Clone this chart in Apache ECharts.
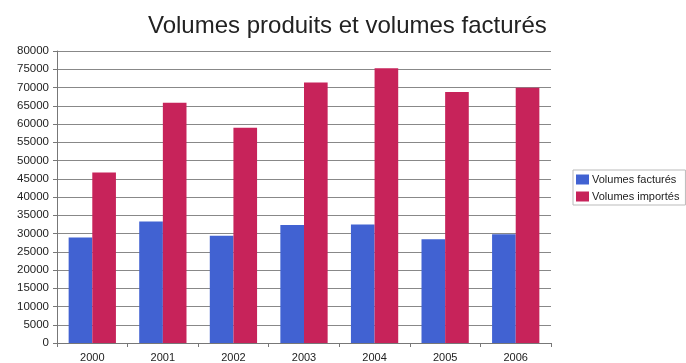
<!DOCTYPE html>
<html><head><meta charset="utf-8">
<script src="https://cdn.jsdelivr.net/npm/echarts@6/dist/echarts.min.js"></script>
<style>html,body{margin:0;padding:0;background:#fff}#c{width:686px;height:363px}</style>
</head><body><div id="c"></div>
<script>
const categories = ['2000','2001','2002','2003','2004','2005','2006'];
const volumesFactures = [28900, 33300, 29400, 32300, 32500, 28400, 29800];
const volumesImportes = [46700, 65800, 59000, 71400, 75300, 68800, 69900];
const seriesNames = ['Volumes facturés', 'Volumes importés'];
const titleText = 'Volumes produits et volumes facturés';

const chart = echarts.init(document.getElementById('c'), null, {renderer:'canvas'});
chart.setOption({
  animation: false,
  backgroundColor: '#fff',
  title: {
    text: titleText, left: 143, top: 9,
    textStyle: {fontFamily: 'Liberation Sans, Arial', fontSize: 24, fontWeight: 'normal', color: '#222'}
  },
  legend: {
    orient: 'vertical', left: 573, top: 170,
    data: seriesNames,
    icon: 'rect', itemWidth: 13, itemHeight: 10, itemGap: 6,
    borderColor: '#bbb', borderWidth: 1, padding: [4, 6, 3, 3],
    textStyle: {fontFamily: 'Liberation Sans, Arial', fontSize: 11, color: '#222', padding: [0,0,0,-2]}
  },
  grid: {left: 57, right: 135, top: 51, bottom: 20, containLabel: false},
  xAxis: {
    type: 'category', data: categories,
    axisLine: {lineStyle: {color: '#777', width: 1}},
    axisTick: {show: true, length: 4, lineStyle: {color: '#777'}},
    axisLabel: {fontFamily: 'Liberation Sans, Arial', fontSize: 11, color: '#222', margin: 9}
  },
  yAxis: {
    type: 'value', min: 0, max: 80000, interval: 5000,
    axisLine: {show: true, lineStyle: {color: '#777', width: 1}},
    axisTick: {show: true, length: 4, lineStyle: {color: '#777'}},
    axisLabel: {fontFamily: 'Liberation Sans, Arial', fontSize: 11.5, color: '#222', margin: 8,
      formatter: v => String(v)},
    splitLine: {lineStyle: {color: '#888', width: 1}}
  },
  series: [
    {name: seriesNames[0], type: 'bar', data: volumesFactures, barGap: '0%', barCategoryGap: '33%',
     itemStyle: {color: '#4162d2'}},
    {name: seriesNames[1], type: 'bar', data: volumesImportes, barGap: '0%', barCategoryGap: '33%',
     itemStyle: {color: '#c7235a'}}
  ]
});
</script></body></html>
